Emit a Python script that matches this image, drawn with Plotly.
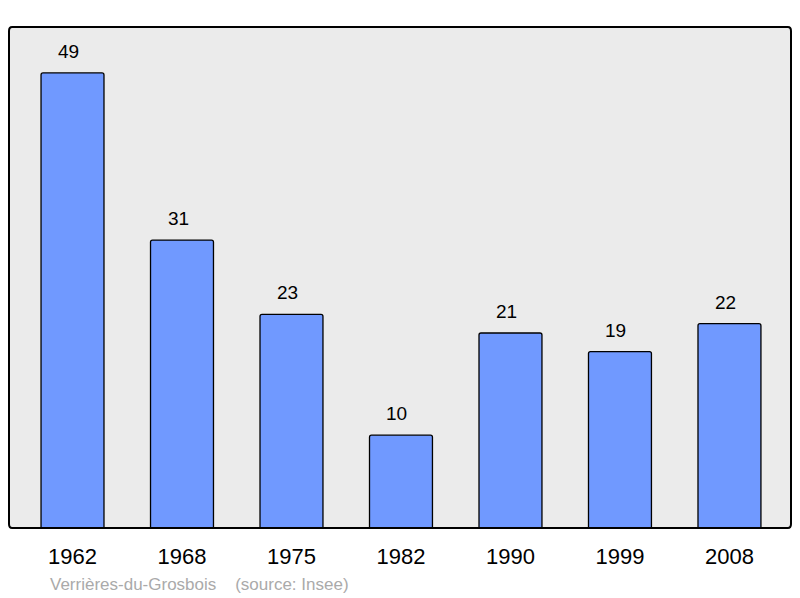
import plotly.graph_objects as go

years = ["1962", "1968", "1975", "1982", "1990", "1999", "2008"]
population = [49, 31, 23, 10, 21, 19, 22]
caption = "Verrières-du-Grosbois    (source: Insee)"

fig = go.Figure()
fig.add_trace(go.Bar(
    x=list(range(len(years))), y=population, width=0.575,
    marker=dict(color="#7099ff", line=dict(color="#000000", width=1.3), cornerradius=2),
    hoverinfo="skip",
))
for i, v in enumerate(population):
    fig.add_annotation(x=i, y=v, text=str(v), showarrow=False, yanchor="bottom", yshift=9, xshift=-4,
                       font=dict(size=19, color="#000000", family="Liberation Sans"))

fig.add_annotation(xref="paper", yref="paper", x=(48-9)/782, y=-(584-528)/501, xanchor="left", yanchor="middle",
                   text=caption, showarrow=False, font=dict(size=17, color="#aaaaaa", family="Liberation Sans"))

# rounded plot frame
fig.add_shape(type="path", xref="paper", yref="paper",
              path="M 0,0.008 L 0,0.992 Q 0,1 0.004,1 L 0.996,1 Q 1,1 1,0.992 L 1,0.008 Q 1,0 0.996,0 L 0.004,0 Q 0,0 0,0.008 Z",
              line=dict(color="#000000", width=2), layer="above")

fig.update_layout(
    width=784, height=590,
    margin=dict(l=1, r=1, t=19, b=70),
    paper_bgcolor="#ffffff", plot_bgcolor="#ebebeb",
    showlegend=False,
    font=dict(family="Liberation Sans"),
    xaxis=dict(range=[-0.58, 6.562], tickmode="array", tickvals=list(range(len(years))), ticktext=years,
               showgrid=False, zeroline=False, ticks="", ticklabelstandoff=13,
               tickfont=dict(size=22, color="#000000"), fixedrange=True),
    yaxis=dict(range=[0, 53.95], showgrid=False, zeroline=False, showticklabels=False, fixedrange=True),
)
fig.write_html("out.html")
